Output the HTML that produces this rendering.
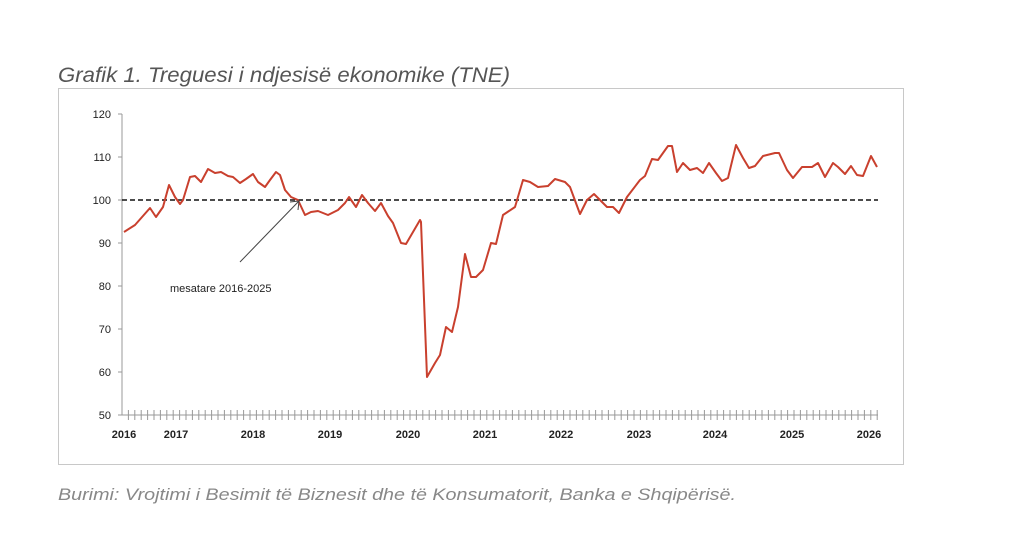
<!DOCTYPE html><html><head><style>body{margin:0;background:#fff;width:1024px;height:536px;overflow:hidden;font-family:"Liberation Sans",sans-serif}</style></head><body>
<svg width="1024" height="536" xmlns="http://www.w3.org/2000/svg">
<text x="58" y="82" font-family="Liberation Sans" font-style="italic" font-size="21" fill="#555" textLength="452" lengthAdjust="spacingAndGlyphs">Grafik 1. Treguesi i ndjesisë ekonomike (TNE)</text>
<rect x="58.5" y="88.5" width="845" height="376" fill="none" stroke="#c8c8c8"/>
<g font-size="11" fill="#222" text-anchor="end" font-family="Liberation Sans">
<text x="111" y="118">120</text><text x="111" y="161">110</text><text x="111" y="204">100</text><text x="111" y="247">90</text><text x="111" y="290">80</text><text x="111" y="333">70</text><text x="111" y="376">60</text><text x="111" y="419">50</text></g>
<g stroke="#999"><line x1="122" y1="114" x2="122" y2="415"/><line x1="118" y1="114" x2="122" y2="114"/><line x1="118" y1="157" x2="122" y2="157"/><line x1="118" y1="200" x2="122" y2="200"/><line x1="118" y1="243" x2="122" y2="243"/><line x1="118" y1="286" x2="122" y2="286"/><line x1="118" y1="329" x2="122" y2="329"/><line x1="118" y1="372" x2="122" y2="372"/><line x1="118" y1="415" x2="878" y2="415"/></g>
<path id="t" stroke="#aaa" d=""/>
<g font-size="11" fill="#222" font-weight="bold" text-anchor="middle"><text x="124" y="438">2016</text><text x="176" y="438">2017</text><text x="253" y="438">2018</text><text x="330" y="438">2019</text><text x="408" y="438">2020</text><text x="485" y="438">2021</text><text x="561" y="438">2022</text><text x="639" y="438">2023</text><text x="715" y="438">2024</text><text x="792" y="438">2025</text><text x="869" y="438">2026</text></g>
<line x1="122" y1="200" x2="878" y2="200" stroke="#111" stroke-width="1.5" stroke-dasharray="5,3"/>
<polyline fill="none" stroke="#c9402e" stroke-width="2" stroke-linejoin="round" points="124,232 135,225 150,208 156,217 163,207 169,185 175,197 180,204 183,200 190,177 195,176 201,182 208,169 215,173 221,172 228,176 233,177 240,183 246,179 253,174 258,182 265,187 270,180 276,172 280,175 285,190 291,197 298,200 305,215 311,212 318,211 328,215 338,210 345,203 349,197 356,207 362,195 368,203 375,211 381,203 388,216 393,223 401,243 406,244 413,232 420,220 421,222 427,377 435,363 440,355 446,327 452,332 458,307 465,254 471,277 476,277 483,270 491,243 496,244 503,215 515,207 523,180 530,182 538,187 548,186 555,179 565,182 570,187 580,214 587,200 594,194 607,207 613,207 619,213 627,197 640,180 645,176 652,159 658,160 668,146 672,146 677,172 683,163 690,170 697,168 703,173 709,163 716,173 722,181 728,178 736,145 743,158 749,168 755,166 763,156 775,153 779,153 787,170 793,178 802,167 812,167 818,163 825,177 833,163 838,167 845,174 851,166 857,175 863,176 871,156 877,167"/>
<line x1="240" y1="262" x2="299" y2="201" stroke="#444" stroke-width="1"/>
<polyline points="290,202 299,201 298,210" fill="none" stroke="#444"/>
<text x="170" y="292" font-size="11" fill="#222">mesatare 2016-2025</text>
<text x="58" y="500" font-style="italic" font-size="17" fill="#888" textLength="678" lengthAdjust="spacingAndGlyphs">Burimi: Vrojtimi i Besimit të Biznesit dhe të Konsumatorit, Banka e Shqipërisë.</text>
<g stroke="#999">
<script>/* none */</script>
</g>
<path stroke="#999" stroke-width="1" d="M128.4 410v10M134.8 410v10M141.2 410v10M147.6 410v10M154 410v10M160.4 410v10M166.8 410v10M173.2 410v10M179.6 410v10M186 410v10M192.4 410v10M198.8 410v10M205.2 410v10M211.6 410v10M218 410v10M224.4 410v10M230.8 410v10M237.2 410v10M243.6 410v10M250 410v10M256.4 410v10M262.8 410v10M269.2 410v10M275.6 410v10M282 410v10M288.4 410v10M294.8 410v10M301.2 410v10M307.6 410v10M314 410v10M320.4 410v10M326.8 410v10M333.2 410v10M339.6 410v10M346 410v10M352.4 410v10M358.8 410v10M365.2 410v10M371.6 410v10M378 410v10M384.4 410v10M390.8 410v10M397.2 410v10M403.6 410v10M410 410v10M416.4 410v10M422.8 410v10M429.2 410v10M435.6 410v10M442 410v10M448.4 410v10M454.8 410v10M461.2 410v10M467.6 410v10M474 410v10M480.4 410v10M486.8 410v10M493.2 410v10M499.6 410v10M506 410v10M512.4 410v10M518.8 410v10M525.2 410v10M531.6 410v10M538 410v10M544.4 410v10M550.8 410v10M557.2 410v10M563.6 410v10M570 410v10M576.4 410v10M582.8 410v10M589.2 410v10M595.6 410v10M602 410v10M608.4 410v10M614.8 410v10M621.2 410v10M627.6 410v10M634 410v10M640.4 410v10M646.8 410v10M653.2 410v10M659.6 410v10M666 410v10M672.4 410v10M678.8 410v10M685.2 410v10M691.6 410v10M698 410v10M704.4 410v10M710.8 410v10M717.2 410v10M723.6 410v10M730 410v10M736.4 410v10M742.8 410v10M749.2 410v10M755.6 410v10M762 410v10M768.4 410v10M774.8 410v10M781.2 410v10M787.6 410v10M794 410v10M800.4 410v10M806.8 410v10M813.2 410v10M819.6 410v10M826 410v10M832.4 410v10M838.8 410v10M845.2 410v10M851.6 410v10M858 410v10M864.4 410v10M870.8 410v10M877.2 410v10"/>
</svg></body></html>
